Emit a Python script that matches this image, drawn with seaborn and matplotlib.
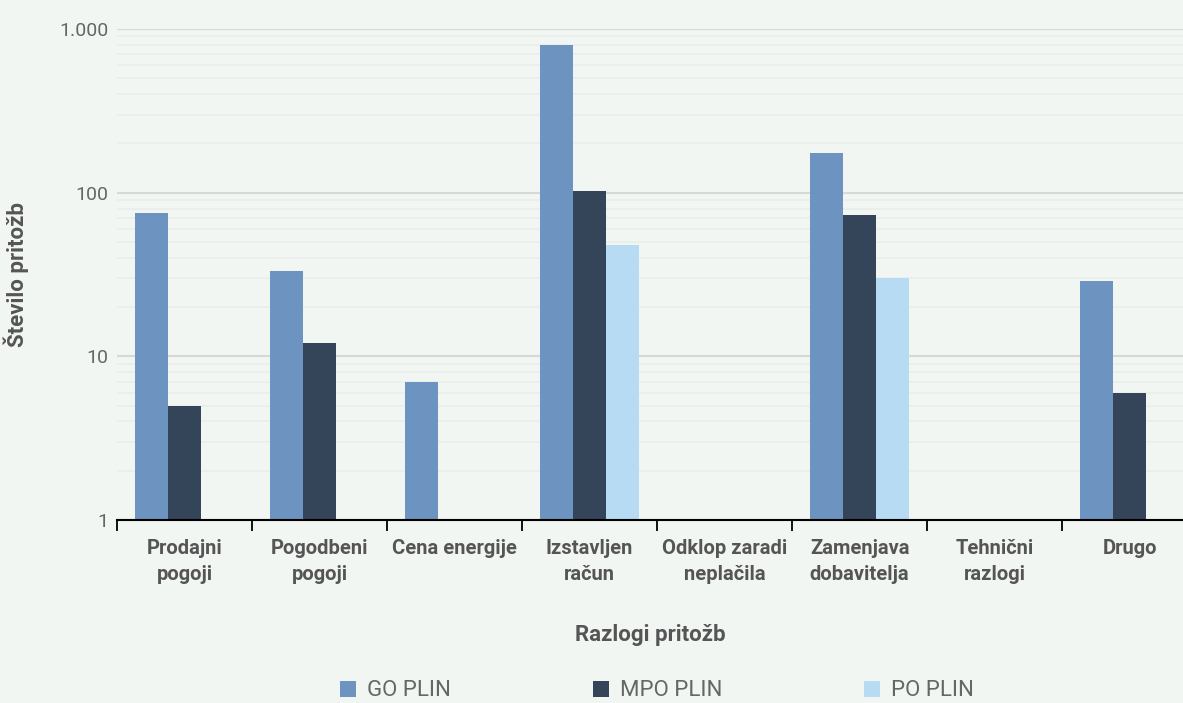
import numpy as np
import pandas as pd
import matplotlib
matplotlib.use("Agg")
import matplotlib.pyplot as plt
import matplotlib.ticker as mticker
from matplotlib.patches import Patch
import seaborn as sns

# ── data ────────────────────────────────────────────────────────
categories = ["Prodajni\npogoji", "Pogodbeni\npogoji", "Cena energije", "Izstavljen\nračun",
              "Odklop zaradi\nneplačila", "Zamenjava\ndobavitelja", "Tehnični\nrazlogi", "Drugo"]
series = ["GO PLIN", "MPO PLIN", "PO PLIN"]
go_plin = [75, 33, 7, 800, 0, 174, 0, 29]
mpo_plin = [5, 12, 0, 102, 0, 73, 0, 6]
po_plin = [0, 0, 0, 48, 0, 30, 0, 0]
colors = ["#6d93c0", "#344459", "#b7dbf2"]

bg = "#f2f6f3"
grey = "#555555"

rows = []
for s, vals in zip(series, [go_plin, mpo_plin, po_plin]):
    for c, v in zip(categories, vals):
        rows.append({"cat": c, "series": s, "value": v if v > 0 else np.nan})
df = pd.DataFrame(rows)

sns.set_theme(style="white")
plt.rcParams["font.family"] = ["Roboto", "DejaVu Sans"]

fig = plt.figure(figsize=(11.83, 7.03), dpi=100, facecolor=bg)
ax = fig.add_axes([117 / 1183, 1 - 520 / 703, 1 - 117 / 1183, (520 - 29) / 703])
ax.set_facecolor(bg)

sns.barplot(data=df, x="cat", y="value", hue="series", order=categories,
            hue_order=series, palette=colors, width=0.735, gap=0,
            saturation=1, ax=ax, legend=False, zorder=3, linewidth=0, edgecolor="none")

ax.set_yscale("log")
ax.set_ylim(1, 1000)
ax.set_xlim(-0.5, 7.396)

ax.yaxis.set_major_locator(mticker.FixedLocator([1, 10, 100, 1000]))
ax.yaxis.set_major_formatter(mticker.FuncFormatter(
    lambda v, p: f"{int(v):,}".replace(",", ".")))
ax.yaxis.set_minor_locator(mticker.LogLocator(base=10, subs=np.arange(2, 10)))
ax.yaxis.set_minor_formatter(mticker.NullFormatter())
ax.grid(axis="y", which="major", color="#d6d9d7", linewidth=1.5, zorder=0)
ax.grid(axis="y", which="minor", color="#eaeeeb", linewidth=1.2, zorder=0)
ax.tick_params(axis="y", which="both", length=0, labelsize=14, labelcolor="#666666", pad=6)

# category boundaries as tick marks, labels at centres
ax.xaxis.set_minor_locator(mticker.FixedLocator(np.arange(-0.5, 8, 1)))
ax.tick_params(axis="x", which="minor", bottom=True, length=8, width=1.3,
               color="black", direction="out")
ax.tick_params(axis="x", which="major", bottom=False, length=0, pad=14,
               labelsize=14.5, labelcolor=grey)
for lab in ax.get_xticklabels():
    lab.set_fontweight("bold")
    lab.set_linespacing(1.45)

for side in ["left", "right", "top"]:
    ax.spines[side].set_visible(False)
ax.spines["bottom"].set_color("black")
ax.spines["bottom"].set_linewidth(1.5)
ax.spines["bottom"].set_zorder(5)

ax.set_xlabel("Razlogi pritožb", fontsize=16, fontweight="bold", color=grey)
ax.xaxis.set_label_coords(0.5, -0.212)
ax.set_ylabel("Število pritožb", fontsize=16, fontweight="bold", color=grey)
ax.yaxis.set_label_coords(-0.083, 0.5)

handles = [Patch(facecolor=c, edgecolor="none") for c in colors]
leg = fig.legend(handles, series, loc="center", bbox_to_anchor=(657 / 1183, 1 - 691 / 703),
                 ncol=3, frameon=False, handlelength=0.7, handleheight=0.7,
                 handletextpad=0.5, columnspacing=6.4, fontsize=16)
for t in leg.get_texts():
    t.set_color("#666666")

fig.savefig("out.png", dpi=100, facecolor=bg)
